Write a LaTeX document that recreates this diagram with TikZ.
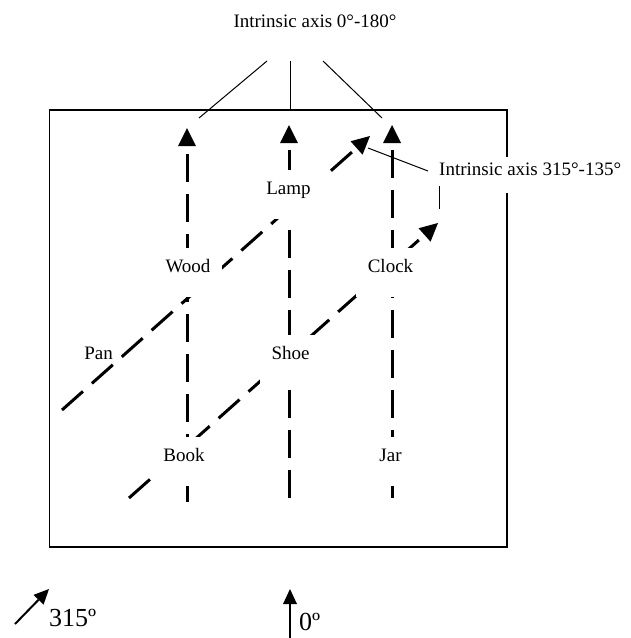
\documentclass[tikz,border=0pt]{standalone}
\usepackage{fontspec}
\setmainfont{Liberation Serif}
\usetikzlibrary{arrows.meta}
\tikzset{
  axisline/.style={line width=3pt, dash pattern=on 28pt off 12pt,
    -{Triangle[length=18pt,width=18pt,line width=0pt]}},
  leader/.style={line width=1pt},
  frame/.style={line width=1.3pt},
  objlabel/.style={fill=white, inner xsep=12pt, inner ysep=0pt,
    text height=24.5pt, text depth=24.5pt, font=\fontsize{19}{22}\selectfont},
  plainlabel/.style={inner sep=0pt, font=\fontsize{19}{22}\selectfont},
  biglabel/.style={inner sep=0pt, font=\fontsize{26}{30}\selectfont},
  viewarrow/.style={line width=2pt, -{Triangle[length=15pt,width=14pt,line width=0pt]}}
}
\begin{document}
\begin{tikzpicture}[x=1pt,y=-1pt]
\useasboundingbox (0,0) rectangle (631,638);
% frame
\draw[frame] (49.5,110) rectangle (507,547);
% end points
\coordinate (c1b) at (187,502); \coordinate (c1t) at (187,128);
\coordinate (c2b) at (289,498); \coordinate (c2t) at (289,125);
\coordinate (c3b) at (392,498); \coordinate (c3t) at (392,125);
\coordinate (dAb) at (62,410);  \coordinate (dAt) at (370,136);
\coordinate (dBb) at (129,498); \coordinate (dBt) at (438,223);
% axis lines
\draw[axisline] (c1b) -- (c1t);
\draw[axisline] (c2b) -- (c2t);
\draw[axisline] (c3b) -- (c3t);
\draw[axisline] (dAb) -- (dAt);
\draw[axisline] (dBb) -- (dBt);
% object labels
\node[objlabel] (lamp)  at (288.5,194) {Lamp};
\node[objlabel] (wood)  at (188,272.5) {Wood};
\node[objlabel] (clock) at (390.5,272.5) {Clock};
\node[objlabel] (shoe)  at (290.5,359.5) {Shoe};
\node[objlabel] (book)  at (184,461) {Book};
\node[objlabel] (jar)   at (390.5,461) {Jar};
\node[plainlabel, anchor=base] (pan) at (98.5,359.5) {Pan};
% title and leaders
\node[plainlabel, anchor=base] (title) at (315,27) {Intrinsic axis 0°-180°};
\coordinate (t1a) at (267,61); \coordinate (t1b) at (199,118);
\coordinate (t2a) at (290,61); \coordinate (t2b) at (290,110);
\coordinate (t3a) at (323,61); \coordinate (t3b) at (382,118);
\draw[leader] (t1a) -- (t1b);
\draw[leader] (t2a) -- (t2b);
\draw[leader] (t3a) -- (t3b);
% second label and leaders
\node[fill=white, inner xsep=11pt, inner ysep=0pt, text height=18.5pt, text depth=17.5pt,
  font=\fontsize{19}{22}\selectfont, anchor=base west] (diag) at (428,175.5) {Intrinsic axis 315°-135°};
\coordinate (lA1) at (368,148); \coordinate (lA2) at (428,171);
\coordinate (lB1) at (439,186); \coordinate (lB2) at (439,209);
\draw[leader] (lA1) -- (lA2);
\draw[leader] (lB1) -- (lB2);
% viewing directions
\coordinate (v1a) at (15,624); \coordinate (v1b) at (49,589);
\coordinate (v2a) at (290,640); \coordinate (v2b) at (290,589);
\draw[viewarrow] (v1a) -- (v1b);
\draw[viewarrow] (v2a) -- (v2b);
\node[biglabel, anchor=base west] (d315) at (49,626) {315º};
\node[biglabel, anchor=base west] (d0) at (299,630) {0º};
\end{tikzpicture}
\end{document}
